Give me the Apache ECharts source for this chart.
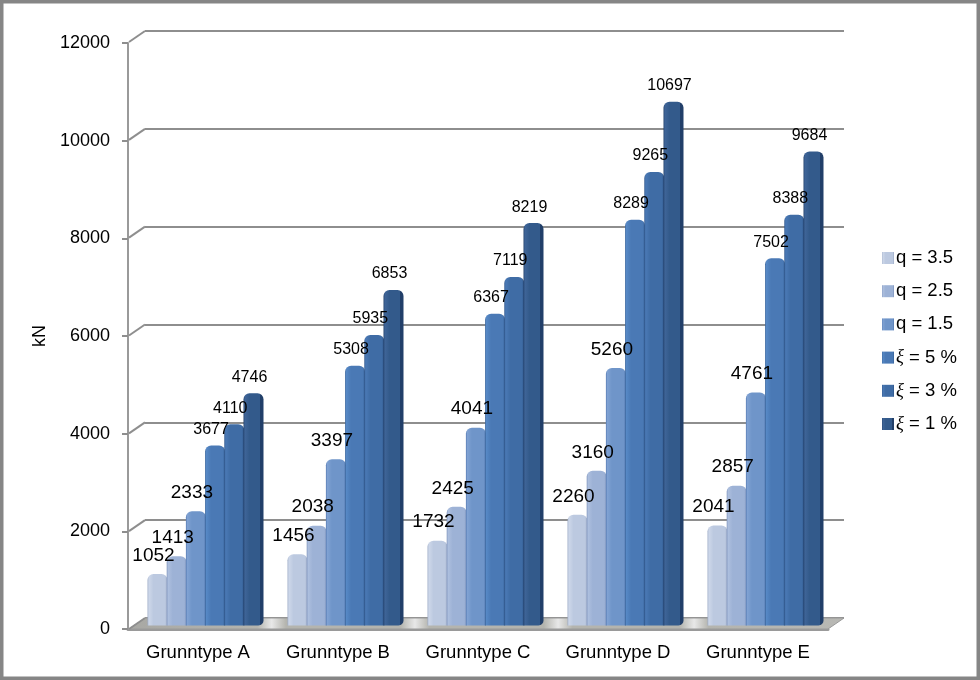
<!DOCTYPE html>
<html>
<head>
<meta charset="utf-8">
<title>Grunntype</title>
<script src="https://cdn.jsdelivr.net/npm/echarts@6/dist/echarts.min.js"></script>
<style>
	html, body { margin: 0; padding: 0; background: #fff; }
	#main { width: 980px; height: 680px; }
</style>
</head>
<body>
<div id="main"></div>
<script>
	var categories = ['Grunntype A', 'Grunntype B', 'Grunntype C', 'Grunntype D', 'Grunntype E'];
	var seriesNames = ['q = 3.5', 'q = 2.5', 'q = 1.5', 'ξ = 5 %', 'ξ = 3 %', 'ξ = 1 %'];
	var q35 = [1052, 1456, 1732, 2260, 2041];
	var q25 = [1413, 2038, 2425, 3160, 2857];
	var q15 = [2333, 3397, 4041, 5260, 4761];
	var xi5 = [3677, 5308, 6367, 8289, 7502];
	var xi3 = [4110, 5935, 7119, 9265, 8388];
	var xi1 = [4746, 6853, 8219, 10697, 9684];
	var yTicks = [0, 2000, 4000, 6000, 8000, 10000, 12000];

	var seriesValues = [q35, q25, q15, xi5, xi3, xi1];
	// edge, highlight, middle of each bar
	var barColors = [
		['#9fadc8', '#cdd7e9', '#bcc9e0'],
		['#7f94bd', '#adbfde', '#9db2d6'],
		['#557ab2', '#80a2d3', '#6f95c9'],
		['#386399', '#5688c5', '#4a79b5'],
		['#2e5488', '#4a79b5', '#3f6ca5'],
		['#223f69', '#3f6598', '#335a8b']
	];
	var labelSizes = [19, 19, 19, 16, 16, 16];

	var chart = echarts.init(document.getElementById('main'));

	// back wall diagonals and the floor of the 3d frame
	function renderFrame(params, api) {
		var rect = params.coordSys;
		var p = api.coord([0, api.value(0)]);
		var y = p[1];
		var x0 = rect.x;
		var x1 = rect.x + rect.width;
		var children = [{
			type: 'line',
			shape: { x1: x0 - 16, y1: y + 11, x2: x0, y2: y },
			style: { stroke: '#8e8e8e', lineWidth: 2 }
		}];
		if (api.value(0) === 0) {
			children.unshift({
				type: 'polygon',
				shape: { points: [[x0 - 16, y + 11], [x0, y], [x1, y], [x1 - 16, y + 11]] },
				style: {
					stroke: '#9a9a9a',
					lineWidth: 1,
					fill: new echarts.graphic.LinearGradient(0, 0, 1, 0, [
						{ offset: 0, color: '#a8a8a4' },
						{ offset: 0.18, color: '#b4b4ae' },
						{ offset: 0.2, color: '#e8e8e8' },
						{ offset: 0.22, color: '#b4b4ae' },
						{ offset: 0.38, color: '#b4b4ae' },
						{ offset: 0.4, color: '#e8e8e8' },
						{ offset: 0.42, color: '#b4b4ae' },
						{ offset: 0.58, color: '#b4b4ae' },
						{ offset: 0.6, color: '#e8e8e8' },
						{ offset: 0.62, color: '#b4b4ae' },
						{ offset: 0.77, color: '#b4b4ae' },
						{ offset: 0.79, color: '#e8e8e8' },
						{ offset: 0.81, color: '#b4b4ae' },
						{ offset: 1, color: '#b8b8b4' }
					])
				}
			});
		}
		return { type: 'group', children: children };
	}

	var series = [{
		type: 'custom',
		xAxisIndex: 1,
		yAxisIndex: 1,
		silent: true,
		z: 1,
		renderItem: renderFrame,
		encode: { y: 0 },
		data: yTicks.map(function (v) { return [v]; })
	}];

	seriesNames.forEach(function (name, i) {
		var c = barColors[i];
		series.push({
			name: name,
			type: 'bar',
			xAxisIndex: 2,
			yAxisIndex: 2,
			barWidth: 20,
			barGap: '-4%',
			z: 3,
			data: seriesValues[i],
			itemStyle: {
				borderRadius: i === 5 ? [6, 6, 5, 0] : [6, 6, 0, 0],
				color: new echarts.graphic.LinearGradient(0, 0, 1, 0, [
					{ offset: 0, color: c[0] },
					{ offset: 0.07, color: c[1] },
					{ offset: 0.3, color: c[2] },
					{ offset: i === 5 ? 0.8 : 0.88, color: c[2] },
					{ offset: i === 5 ? 0.82 : 1, color: c[0] },
					{ offset: 1, color: c[0] }
				])
			},
			label: {
				show: true,
				position: 'top',
				distance: i < 3 ? 9 : 8,
				offset: [-4, 0],
				fontFamily: 'Liberation Sans',
				fontSize: labelSizes[i],
				color: '#000'
			}
		});
	});

	chart.setOption({
		animation: false,
		backgroundColor: '#fff',
		textStyle: { fontFamily: 'Liberation Sans' },
		graphic: [{
			type: 'rect',
			shape: { x: 0, y: 0, width: 980, height: 680 },
			style: { fill: 'none', stroke: '#868686', lineWidth: 7 },
			z: 100,
			silent: true
		}],
		legend: {
			orient: 'vertical',
			left: 877,
			top: 243,
			itemWidth: 12,
			itemHeight: 12,
			itemGap: 13.2,
			icon: 'rect',
			data: seriesNames,
			formatter: function (name) {
				if (name.charAt(0) === 'ξ') {
					return '{xi|ξ}' + name.substring(1);
				}
				return name;
			},
			textStyle: {
				fontFamily: 'Liberation Sans',
				fontSize: 18.5,
				color: '#000',
				lineHeight: 20,
				padding: [0, 0, 0, -3],
				rich: {
					xi: { fontFamily: 'Liberation Serif', fontStyle: 'italic', fontSize: 18.5, color: '#000' }
				}
			}
		},
		grid: [
			{ left: 128, width: 700, top: 43, height: 586 },
			{ left: 145, width: 699, top: 31, height: 587 },
			{ left: 135.5, width: 700, top: 38, height: 587.5 }
		],
		xAxis: [
			{
				type: 'category',
				gridIndex: 0,
				data: categories,
				axisLine: { lineStyle: { color: '#9a9a9a', width: 3 } },
				axisTick: { show: false },
				axisLabel: { margin: 14, fontSize: 18.5, color: '#000', fontFamily: 'Liberation Sans' }
			},
			{ type: 'category', gridIndex: 1, data: categories, show: false },
			{ type: 'category', gridIndex: 2, data: categories, show: false }
		],
		yAxis: [
			{
				type: 'value',
				gridIndex: 0,
				min: 0,
				max: 12000,
				interval: 2000,
				name: 'kN',
				nameLocation: 'middle',
				nameGap: 71,
				nameRotate: 90,
				nameTextStyle: { fontSize: 18, color: '#000', fontFamily: 'Liberation Sans' },
				axisLine: { show: true, lineStyle: { color: '#9a9a9a', width: 2 } },
				axisTick: { show: true, length: 6, lineStyle: { color: '#8e8e8e', width: 2 } },
				axisLabel: {
					margin: 18,
					fontSize: 18,
					color: '#000',
					fontFamily: 'Liberation Sans',
					formatter: function (v) { return String(v); }
				},
				splitLine: { show: false }
			},
			{
				type: 'value',
				gridIndex: 1,
				min: 0,
				max: 12000,
				interval: 2000,
				axisLine: { show: false },
				axisTick: { show: false },
				axisLabel: { show: false },
				splitLine: { show: true, lineStyle: { color: '#8e8e8e', width: 2 } }
			},
			{
				type: 'value',
				gridIndex: 2,
				min: 0,
				max: 12000,
				interval: 2000,
				show: false,
				splitLine: { show: false }
			}
		],
		series: series
	});
</script>
</body>
</html>
